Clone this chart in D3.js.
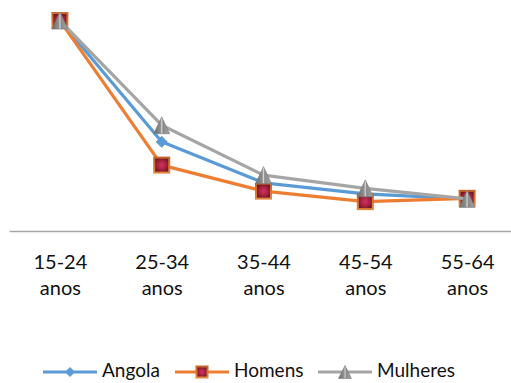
<!DOCTYPE html>
<html><head><meta charset="utf-8">
<script src="https://cdn.jsdelivr.net/npm/d3@7"></script>
<style>
html,body{margin:0;padding:0;background:#fff;}
svg{display:block;font-family:Lato,"Open Sans",sans-serif;}
</style></head>
<body>
<svg id="c" width="511" height="383"></svg>
<script>
const categories = ["15-24 anos","25-34 anos","35-44 anos","45-54 anos","55-64 anos"];
const angola   = [38.0, 16.1, 8.7, 6.7, 5.8];
const homens   = [38.0, 11.9, 7.2, 5.3, 5.9];
const mulheres = [38.0, 19.1, 10.1, 7.7, 5.8];
const seriesNames = ["Angola","Homens","Mulheres"];

const svg = d3.select("#c");
const x = d3.scalePoint().domain(categories).range([9, 518]).padding(0.5);
const y = d3.scaleLinear().domain([0, 40]).range([231, 9.5]);

const defs = svg.append("defs");
const rg = defs.append("radialGradient").attr("id","sq");
rg.append("stop").attr("offset","0%").attr("stop-color","#d23263");
rg.append("stop").attr("offset","60%").attr("stop-color","#a8203f");
rg.append("stop").attr("offset","100%").attr("stop-color","#6e1a22");
const sqb = defs.append("linearGradient").attr("id","sqb").attr("x1","0").attr("y1","0").attr("x2","0").attr("y2","1");
sqb.append("stop").attr("offset","0%").attr("stop-color","#c7642a");
sqb.append("stop").attr("offset","100%").attr("stop-color","#e5853d");
const tg = defs.append("linearGradient").attr("id","tri").attr("x1","0").attr("x2","1");
tg.append("stop").attr("offset","0%").attr("stop-color","#6a6a6a");
tg.append("stop").attr("offset","42%").attr("stop-color","#8f8f8f");
tg.append("stop").attr("offset","50%").attr("stop-color","#d4d4d4");
tg.append("stop").attr("offset","58%").attr("stop-color","#8a8a8a");
tg.append("stop").attr("offset","100%").attr("stop-color","#a4a4a4");

// axis
const ax = svg.append("g").attr("transform","translate(0,231)")
  .call(d3.axisBottom(x).tickSize(0).tickSizeOuter(0));
ax.select(".domain").attr("stroke","#a6a6a6").attr("stroke-width",1.3);
ax.selectAll(".tick text").each(function(d){
  const t = d3.select(this);
  t.text(null).attr("y",0).attr("dy",null).attr("fill","#111")
   .attr("font-size","20px").attr("font-family","Lato");
  d.split(" ").forEach((w,i)=>{
    t.append("tspan").attr("x",0).attr("y", 38 + i*26).text(w);
  });
});

function diamond(g, cx, cy, r){
  g.append("path").attr("d",`M${cx},${cy-r}L${cx+r},${cy}L${cx},${cy+r}L${cx-r},${cy}Z`)
   .attr("fill","#5B9BD5").attr("stroke","#5B9BD5").attr("stroke-width",1);
}
function square(g, cx, cy, s){
  g.append("rect").attr("x",cx-s/2).attr("y",cy-s/2).attr("width",s).attr("height",s)
   .attr("fill","url(#sq)").attr("stroke","url(#sqb)").attr("stroke-width",2);
}
function tri(g, cx, cy, w, h){
  g.append("path").attr("d",`M${cx},${cy-h/2}L${cx+w/2},${cy+h/2}L${cx-w/2},${cy+h/2}Z`)
   .attr("fill","url(#tri)").attr("stroke","#7a7a7a").attr("stroke-width",0.6);
}

const series = [
  {name:seriesNames[0], vals:angola, color:"#5B9BD5", mk:(g,cx,cy)=>diamond(g,cx,cy,5.5)},
  {name:seriesNames[1], vals:homens, color:"#ED7D31", mk:(g,cx,cy)=>square(g,cx,cy,15)},
  {name:seriesNames[2], vals:mulheres, color:"#A5A5A5", mk:(g,cx,cy)=>tri(g,cx,cy,16,17)}
];
const line = d3.line().x((d,i)=>x(categories[i])).y(d=>y(d));
series.forEach(s=>{
  const g = svg.append("g");
  g.append("path").attr("d", line(s.vals)).attr("fill","none")
   .attr("stroke", s.color).attr("stroke-width",3.2).attr("stroke-linejoin","round");
  s.vals.forEach((v,i)=> s.mk(g, x(categories[i]), y(v)));
});

// legend
const legendX = [43, 175, 318];
const lg = svg.append("g");
series.forEach((s,i)=>{
  const x0 = legendX[i], ly = 372;
  lg.append("line").attr("x1",x0).attr("x2",x0+54).attr("y1",ly).attr("y2",ly)
    .attr("stroke",s.color).attr("stroke-width",3.2);
  const g = lg.append("g");
  if(i===0) diamond(g, x0+27, ly, 4.5);
  if(i===1) square(g, x0+27, ly, 11);
  if(i===2) tri(g, x0+27, ly, 13, 13);
  lg.append("text").attr("x", x0+59).attr("y", 377).attr("font-size","19px")
    .attr("font-family","Lato").attr("fill","#111").text(s.name);
});
</script>
</body></html>
